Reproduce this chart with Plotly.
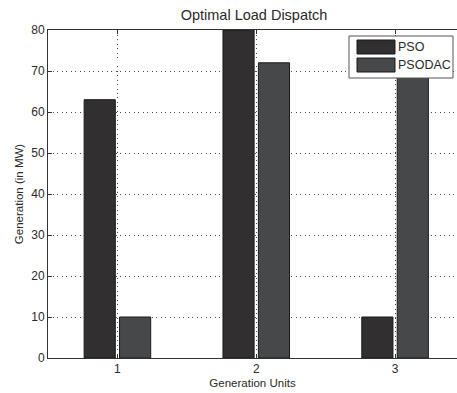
import plotly.graph_objects as go

# Generation per unit (MW) for each optimisation method
units = [1, 2, 3]
pso = [63, 80, 10]
psodac = [10, 72, 71]
series_names = ["PSO", "PSODAC"]
series_colors = ["#312f30", "#46484a"]
y_ticks = [0, 10, 20, 30, 40, 50, 60, 70, 80]

FONT = "Liberation Sans, Arial, sans-serif"
TEXT = "#2a2a2a"

fig = go.Figure()
for name, vals, col in zip(series_names, [pso, psodac], series_colors):
    fig.add_trace(go.Bar(
        x=units, y=vals, name=name,
        marker=dict(color=col, line=dict(color="#1a1a1a", width=1)),
        showlegend=False,
    ))

fig.update_layout(
    width=457, height=393,
    margin=dict(l=48, r=0, t=30, b=35),
    paper_bgcolor="white", plot_bgcolor="white",
    barmode="group", bargap=0.49, bargroupgap=0.12,
    font=dict(family=FONT, size=12, color=TEXT),
    title=dict(text="Optimal Load Dispatch",
               x=(254 - 48) / (457 - 48), xanchor="center", xref="paper",
               y=1 - 15 / 393, yanchor="middle",
               font=dict(size=14.5, color=TEXT)),
)

grid = dict(showgrid=True, gridcolor="#4a4a4a", griddash="1px,3.5px", gridwidth=1)

fig.update_xaxes(
    range=[0.5, 3 + (457 - 395) / 139], tickvals=units,
    ticks="inside", ticklen=4, tickcolor="#333",
    showline=True, linecolor="#333", linewidth=1, mirror="ticks",
    zeroline=False, **grid,
    title=dict(text="Generation Units", font=dict(size=11.5), standoff=3),
)
fig.update_yaxes(
    range=[0, 80], tickvals=y_ticks,
    ticks="inside", ticklen=4, tickcolor="#333",
    showline=True, linecolor="#333", linewidth=1,
    zeroline=False, **grid,
    title=dict(text="Generation (in MW)", font=dict(size=11.5), standoff=5),
)

# Boxed legend with wide swatches in the upper right corner
def px_x(p):
    return (p - 48) / 409


def px_y(p):
    return (358 - p) / 328


shapes = [dict(type="rect", xref="paper", yref="paper",
               x0=px_x(349), x1=px_x(453), y0=px_y(78), y1=px_y(36),
               line=dict(color="#555", width=1), fillcolor="white", layer="above")]
annotations = []
for i, (name, col) in enumerate(zip(series_names, series_colors)):
    top = 40 + i * 18
    shapes.append(dict(type="rect", xref="paper", yref="paper",
                       x0=px_x(357), x1=px_x(395), y0=px_y(top + 14), y1=px_y(top),
                       line=dict(color="#1a1a1a", width=1), fillcolor=col, layer="above"))
    annotations.append(dict(text=name, xref="paper", yref="paper",
                            x=px_x(396), y=px_y(top + 7),
                            xanchor="left", yanchor="middle", showarrow=False,
                            font=dict(size=12.5, color=TEXT, family=FONT)))
fig.update_layout(shapes=shapes, annotations=annotations)

fig.write_html("out.html")
